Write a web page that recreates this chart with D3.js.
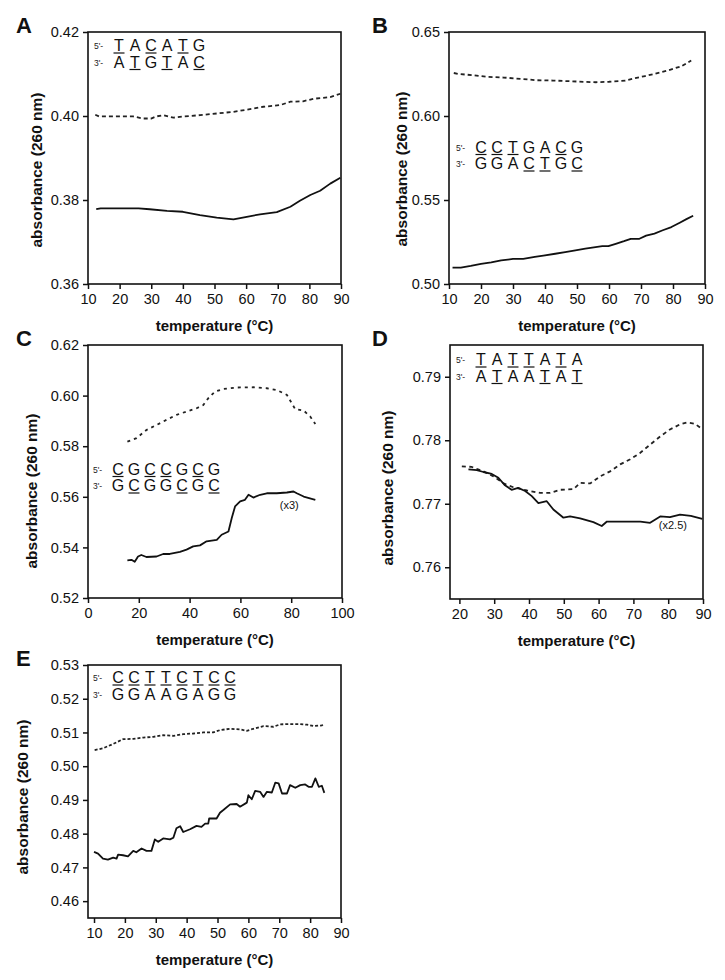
<!DOCTYPE html>
<html><head><meta charset="utf-8">
<script src="https://cdn.jsdelivr.net/npm/d3@7"></script>
<style>
html,body{margin:0;padding:0;background:#fff;}
svg{display:block;font-family:"Liberation Sans",Arial,Helvetica,sans-serif;}
</style></head>
<body>
<svg id="chart" width="725" height="980"></svg>
<script>
// ---------------- DATA ----------------
// Panel A
const seqA = ["TACATG", "ATGTAC"];
const aDuplex = [[12.6,0.3778],[14,0.3780],[20,0.3780],[26,0.3780],[29.5,0.3778],[35,0.3774],[40,0.3772],[45.4,0.3764],[50.7,0.3758],[56,0.3754],[60.2,0.3760],[64.4,0.3766],[69.7,0.3771],[74,0.3784],[77,0.3798],[80.3,0.3812],[83.4,0.3822],[86.6,0.3839],[89.8,0.3853]];
const aSingle = [[12.3,0.4003],[13.5,0.3999],[24.3,0.3999],[27.4,0.3994],[30,0.3994],[31.6,0.3999],[33.8,0.4002],[37,0.3996],[40.4,0.3999],[45.4,0.4002],[50.7,0.4006],[56,0.4010],[60.2,0.4015],[65.4,0.4022],[70.8,0.4026],[74,0.4034],[78,0.4035],[81.3,0.4041],[86.6,0.4045],[89.8,0.4053]];
const aXTicks = [10,20,30,40,50,60,70,80,90];
const aYTicks = [0.36,0.38,0.40,0.42];

// Panel B
const seqB = ["CCTGACG", "GGACTGC"];
const bDuplex = [[11.1,0.5098],[13.7,0.5098],[16.8,0.5108],[20,0.5120],[23.2,0.5129],[26.3,0.5141],[30,0.5149],[33.2,0.5149],[36.8,0.5161],[40,0.5171],[43.2,0.5180],[46.3,0.5190],[49.5,0.5200],[52.6,0.5210],[55.8,0.5220],[57.9,0.5225],[59.8,0.5225],[62.1,0.5239],[64.7,0.5255],[66.8,0.5269],[69.5,0.5269],[71.6,0.5288],[74.2,0.5300],[76.8,0.5320],[79.5,0.5339],[82.1,0.5365],[84.2,0.5386],[86.3,0.5406]];
const bSingle = [[11.5,0.6256],[13.1,0.6250],[17.9,0.6242],[22,0.6233],[27.1,0.6229],[32.3,0.6221],[37.4,0.6213],[42.5,0.6211],[47.7,0.6207],[52.8,0.6203],[55.9,0.6201],[60,0.6204],[65.1,0.6210],[68.2,0.6225],[71.3,0.6238],[74.4,0.6252],[78.5,0.6272],[82.6,0.6296],[85.7,0.6330]];
const bXTicks = [10,20,30,40,50,60,70,80,90];
const bYTicks = [0.50,0.55,0.60,0.65];

// Panel C
const seqC = ["CGCCGCG", "GCGGCGC"];
const cDuplex = [[15.5,0.5349],[17.1,0.5351],[18.4,0.5343],[19.7,0.5364],[21,0.5370],[23,0.5362],[27,0.5364],[29.6,0.5374],[32.2,0.5374],[36.2,0.5382],[38.8,0.5391],[41.4,0.5404],[44.1,0.5408],[46.7,0.5424],[50.7,0.5430],[52.6,0.5450],[55.3,0.5463],[56.6,0.5516],[57.9,0.5562],[59.9,0.5582],[61.8,0.5588],[63.2,0.5608],[65.1,0.5597],[67.8,0.5608],[70.4,0.5614],[74.3,0.5614],[78.3,0.5617],[80.9,0.5621],[82.2,0.5614],[84.9,0.5601],[89.5,0.5588]];
const cSingle = [[15.5,0.5818],[19.1,0.5832],[23,0.5864],[27,0.5884],[30.9,0.5904],[34.9,0.5924],[38.8,0.5937],[42.8,0.5950],[45.4,0.5963],[47.4,0.5990],[50,0.6016],[53.3,0.6026],[58.6,0.6032],[65.1,0.6033],[70.4,0.6029],[74.3,0.6022],[78.3,0.6003],[81.6,0.5946],[84.9,0.5941],[87.5,0.5917],[89.5,0.5888]];
const cXTicks = [0,20,40,60,80,100];
const cYTicks = [0.52,0.54,0.56,0.58,0.60,0.62];
const cNote = "(x3)";

// Panel D
const seqD = ["TATTATA", "ATAATAT"];
const dDuplex = [[22.6,0.7754],[25,0.7753],[26.9,0.7750],[29.3,0.7747],[31.2,0.7741],[33.1,0.7729],[35,0.7722],[36.9,0.7725],[38.9,0.7720],[40.8,0.7712],[42.7,0.7701],[45.1,0.7704],[47,0.7691],[49.9,0.7678],[51.8,0.7680],[54.7,0.7677],[58.5,0.7671],[60.9,0.7665],[62.4,0.7672],[67.2,0.7672],[72,0.7672],[74.8,0.7670],[77.7,0.7680],[80.5,0.7679],[83.4,0.7683],[86.5,0.7681],[89.8,0.7676]];
const dSingle = [[20.7,0.7759],[23.5,0.7758],[26.9,0.7751],[29.8,0.7743],[32.7,0.7732],[35.5,0.7726],[39.4,0.7721],[43.2,0.7717],[46.1,0.7717],[49,0.7722],[52.8,0.7723],[54.7,0.7733],[57.6,0.7732],[60.4,0.7743],[63.3,0.7751],[66.2,0.7762],[69.1,0.7770],[71.9,0.7780],[74.8,0.7793],[77.7,0.7806],[80.5,0.7817],[83.4,0.7825],[85.3,0.7828],[87.7,0.7826],[89.6,0.7818]];
const dXTicks = [20,30,40,50,60,70,80,90];
const dYTicks = [0.76,0.77,0.78,0.79];
const dNote = "(x2.5)";

// Panel E
const seqE = ["CCTTCTCC", "GGAAGAGG"];
const eDuplex = [[10,0.4746],[11.3,0.4741],[12.9,0.4726],[14.5,0.4723],[16.2,0.4729],[17.3,0.4726],[17.8,0.4738],[19.4,0.4736],[21,0.4733],[22.7,0.4749],[23.7,0.4745],[25.4,0.4756],[27,0.4749],[28.6,0.4749],[29.7,0.4783],[30.8,0.4776],[32.4,0.4786],[34.6,0.4783],[35.7,0.4788],[36.7,0.4816],[37.9,0.4822],[38.9,0.4805],[41.1,0.4813],[43.2,0.4823],[44.8,0.4820],[46,0.4830],[47,0.4830],[47.3,0.4845],[49.7,0.4845],[50.8,0.4862],[51.9,0.4870],[54.1,0.4887],[56.2,0.4888],[57.3,0.4880],[59.5,0.4892],[60,0.4914],[61.1,0.4902],[62.2,0.4927],[63.8,0.4924],[64.9,0.4909],[66,0.4924],[67.6,0.4922],[68.7,0.4951],[69.8,0.4949],[70.9,0.4919],[72.5,0.4919],[73.5,0.4944],[75.2,0.4936],[76.8,0.4944],[78.4,0.4946],[79.5,0.4939],[80.6,0.4939],[81.7,0.4964],[82.8,0.4939],[83.8,0.4942],[84.6,0.4921]];
const eSingle = [[10.2,0.5048],[12.9,0.5053],[16.2,0.5066],[19.4,0.5080],[22.7,0.5081],[25.9,0.5085],[29.2,0.5087],[32.4,0.5092],[35.7,0.5090],[38.9,0.5095],[42.2,0.5097],[45.4,0.5100],[48.6,0.5100],[50.8,0.5107],[54.1,0.5111],[57.3,0.5109],[59.5,0.5105],[61.6,0.5111],[64.9,0.5119],[68.1,0.5117],[70.3,0.5124],[73.5,0.5125],[76.8,0.5125],[79,0.5123],[81.1,0.5119],[83.8,0.5121],[84.4,0.5125]];
const eXTicks = [10,20,30,40,50,60,70,80,90];
const eYTicks = [0.46,0.47,0.48,0.49,0.50,0.51,0.52,0.53];

const xTitle = "temperature (°C)";
const yTitle = "absorbance (260 nm)";

// ---------------- LAYOUT ----------------
const panels = [
  {id:"A", x0:88, x1:341, y0:32, y1:284, xDom:[10,90], yDom:[0.36,0.42], xt:aXTicks, yt:aYTicks, solid:aDuplex, dash:aSingle, seq:seqA, seqDx:6, seqDy:19, yLab:46, yLabC:138, dashArr:"4,3"},
  {id:"B", x0:449, x1:705, y0:32, y1:284, xDom:[10,90], yDom:[0.50,0.65], xt:bXTicks, yt:bYTicks, solid:bDuplex, dash:bSingle, seq:seqB, seqDx:7, seqDy:120.5, yLab:42, yLabC:137, dashArr:"4,3"},
  {id:"C", x0:88, x1:342, y0:345, y1:598, xDom:[0,100], yDom:[0.52,0.62], xt:cXTicks, yt:cYTicks, solid:cDuplex, dash:cSingle, seq:seqC, seqDx:5, seqDy:129.5, yLab:51, yLabC:146, dashArr:"3,4", note:cNote, noteAt:[75.5,0.5553]},
  {id:"D", x0:450, x1:703, y0:345, y1:599, xDom:[17.3,90], yDom:[0.755,0.795], xt:dXTicks, yt:dYTicks, solid:dDuplex, dash:dSingle, seq:seqD, seqDx:6, seqDy:20, yLab:57, yLabC:143, dashArr:"4,3.5", note:dNote, noteAt:[77.3,0.7661]},
  {id:"E", x0:88, x1:341, y0:665, y1:918, xDom:[8.05,90], yDom:[0.455,0.53], xt:eXTicks, yt:eYTicks, solid:eDuplex, dash:eSingle, seq:seqE, seqDx:5, seqDy:18, yLab:60, yLabC:132, dashArr:"3,2"}
];

const svg = d3.select("#chart");
const fmt = d3.format(".2f");
const pyr = new Set(["C","T"]);

panels.forEach(p => {
  const x = d3.scaleLinear().domain(p.xDom).range([p.x0, p.x1]);
  const y = d3.scaleLinear().domain(p.yDom).range([p.y1, p.y0]);
  const g = svg.append("g");

  const xa = g.append("g").attr("transform", `translate(0,${p.y1})`)
    .call(d3.axisBottom(x).tickValues(p.xt).tickSize(5).tickPadding(5).tickFormat(d3.format("d")));
  const ya = g.append("g").attr("transform", `translate(${p.x0},0)`)
    .call(d3.axisLeft(y).tickValues(p.yt).tickSize(5).tickPadding(4).tickFormat(fmt));
  [xa, ya].forEach(a => {
    a.select(".domain").remove();
    a.selectAll("line").attr("stroke","#111").attr("stroke-width",1.5);
    a.selectAll("text").attr("fill","#111").style("font-size","14.5px");
  });

  g.append("rect").attr("x",p.x0).attr("y",p.y0).attr("width",p.x1-p.x0).attr("height",p.y1-p.y0)
    .attr("fill","none").attr("stroke","#111").attr("stroke-width",1.6);

  const line = d3.line().x(d=>x(d[0])).y(d=>y(d[1]));
  g.append("path").datum(p.dash).attr("d",line).attr("fill","none")
    .attr("stroke","#222").attr("stroke-width",1.8).attr("stroke-dasharray",p.dashArr);
  g.append("path").datum(p.solid).attr("d",line).attr("fill","none")
    .attr("stroke","#111").attr("stroke-width",1.8).attr("stroke-linejoin","round");

  const sx = p.x0 + p.seqDx, sy = p.y0 + p.seqDy;
  ["5'-","3'-"].forEach((lab,r) => {
    const by = sy + r*16.5;
    g.append("text").attr("x",sx).attr("y",by-2).text(lab)
      .style("font-size","8.5px").attr("fill","#222");
    p.seq[r].split("").forEach((b,i) => {
      const cx = sx + 25 + i*16;
      g.append("text").attr("x",cx).attr("y",by).attr("text-anchor","middle")
        .text(b).style("font-size","16px").attr("fill","#111");
      if (pyr.has(b)) {
        g.append("line").attr("x1",cx-5.5).attr("x2",cx+5.5).attr("y1",by+2).attr("y2",by+2)
          .attr("stroke","#111").attr("stroke-width",1.2);
      }
    });
  });

  if (p.note) {
    g.append("text").attr("x",x(p.noteAt[0])).attr("y",y(p.noteAt[1])).text(p.note)
      .style("font-size","11px").attr("fill","#111");
  }

  g.append("text").attr("x",(p.x0+p.x1)/2).attr("y",p.y1+47).attr("text-anchor","middle")
    .text(xTitle).style("font-size","15px").style("font-weight","bold").attr("fill","#111");
  g.append("text").attr("transform",`translate(${p.x0-p.yLab},${p.y0+p.yLabC}) rotate(-90)`)
    .attr("text-anchor","middle").text(yTitle).style("font-size","15.5px").style("font-weight","bold").attr("fill","#111");

  g.append("text").attr("x", p.id==="A"||p.id==="C"||p.id==="E" ? 16 : 372).attr("y",p.y0+1)
    .text(p.id).style("font-size","22px").style("font-weight","bold").attr("fill","#111");
});
</script>
</body></html>
